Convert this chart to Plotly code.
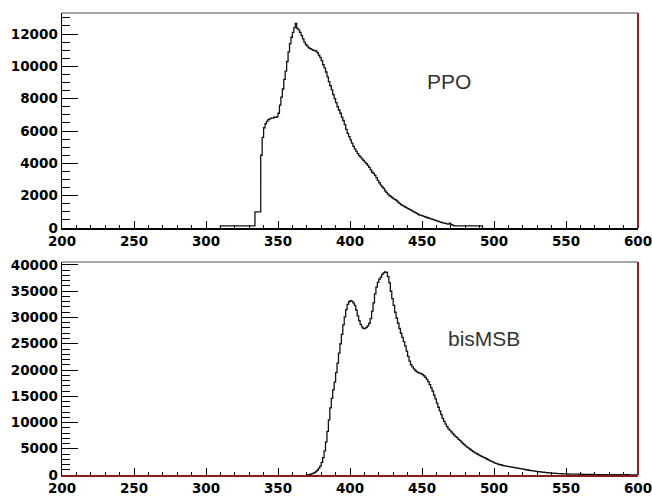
import plotly.graph_objects as go

# ---------------- data ----------------
ppo_first_bin = 310
ppo_counts = [
    # 310-333 low plateau
    130, 130, 130, 130, 130, 130, 130, 130, 130, 130, 130, 130,
    130, 130, 130, 130, 130, 130, 130, 130, 130, 130, 130, 130,
    # 334-337
    1000, 1000, 1000, 1000,
    # 338-349
    4500, 5600, 6200, 6450, 6600, 6700, 6750, 6800, 6800, 6850, 6850, 6870,
    # 350-362
    7100, 7600, 8100, 8600, 9200, 9700, 10300, 10900, 11400, 11800, 12100, 12400, 12650,
    # 363-379
    12350, 12250, 12100, 11900, 11700, 11500, 11350, 11250, 11150, 11100, 11050, 11000,
    10980, 10950, 10850, 10700, 10550,
    # 380-399
    10350, 10100, 9900, 9650, 9350, 9050, 8800, 8550, 8250, 8000,
    7750, 7500, 7300, 7100, 6850, 6650, 6400, 6100, 5850, 5650,
    # 400-419
    5450, 5250, 5050, 4900, 4750, 4600, 4480, 4380, 4280, 4180,
    4080, 3980, 3880, 3750, 3600, 3450, 3380, 3250, 3100, 2950,
    # 420-439
    2800, 2650, 2550, 2450, 2300, 2200, 2100, 2000, 1950, 1880,
    1800, 1750, 1700, 1600, 1520, 1450, 1400, 1350, 1300, 1250,
    # 440-459
    1200, 1150, 1100, 1050, 1000, 950, 900, 850, 800, 780,
    750, 720, 680, 650, 620, 600, 560, 530, 500, 470,
    # 460-471
    440, 410, 380, 350, 320, 300, 280, 260, 240, 300, 200, 180,
    # 472-491 low plateau
    130, 130, 130, 130, 130, 130, 130, 130, 130, 130,
    130, 130, 130, 130, 130, 130, 130, 130, 130, 130,
]

bis_first_bin = 370
bis_counts = [
    # 370-389
    50, 80, 120, 200, 300, 450, 650, 900, 1250, 1700,
    2400, 3300, 4600, 6300, 8300, 10500, 12800, 14600, 16200, 17700,
    # 390-409
    19500, 21300, 23200, 25000, 26800, 28600, 30100, 31500, 32500, 33000,
    33200, 33100, 32800, 32300, 31400, 30300, 29400, 28700, 28200, 27900,
    # 410-429
    27900, 28100, 28400, 28900, 29800, 31200, 32800, 34500, 35800, 36700,
    37300, 37700, 38200, 38500, 38700, 38600, 37800, 36600, 35000, 33600,
    # 430-449
    32300, 31000, 29900, 28900, 27900, 27000, 26200, 25400, 24600, 23600,
    22600, 21700, 21000, 20600, 20200, 19900, 19700, 19500, 19400, 19300,
    # 450-469
    19100, 18900, 18600, 18200, 17800, 17200, 16600, 16000, 15200, 14500,
    13700, 12900, 12200, 11500, 10800, 10200, 9700, 9200, 8800, 8500,
    # 470-489
    8200, 7900, 7600, 7300, 7100, 6800, 6600, 6300, 6000, 5800,
    5500, 5300, 5100, 4900, 4700, 4500, 4300, 4150, 4000, 3850,
    # 490-509
    3700, 3550, 3400, 3300, 3150, 3000, 2850, 2700, 2600, 2450,
    2300, 2200, 2100, 2000, 1950, 1900, 1800, 1750, 1700, 1650,
    # 510-529
    1600, 1550, 1500, 1450, 1400, 1350, 1300, 1250, 1200, 1150,
    1100, 1050, 1000, 950, 900, 850, 820, 780, 750, 700,
    # 530-549
    660, 620, 580, 550, 520, 490, 460, 430, 400, 380,
    360, 340, 320, 300, 280, 260, 250, 240, 230, 220,
    # 550-569
    200, 190, 185, 180, 170, 165, 160, 155, 150, 145,
    140, 135, 130, 125, 120, 115, 110, 105, 100, 95,
    # 570-589
    90, 88, 86, 84, 82, 80, 78, 76, 74, 72,
    70, 68, 66, 64, 62, 60, 58, 56, 54, 52,
    # 590-599
    50, 48, 46, 44, 42, 40, 38, 36, 34, 32,
]

x_tick_values = [200, 250, 300, 350, 400, 450, 500, 550, 600]
ppo_y_ticks = [0, 2000, 4000, 6000, 8000, 10000, 12000]
bis_y_ticks = [0, 5000, 10000, 15000, 20000, 25000, 30000, 35000, 40000]
labels = ["PPO", "bisMSB"]


def step_outline(first_bin, counts):
    """bin edges + counts -> outline for an 'hv' step line (closed to 0 at both ends)"""
    edges = [first_bin + i for i in range(len(counts) + 1)]
    xs = [edges[0]] + edges
    ys = [0] + list(counts) + [0]
    return xs, ys


fig = go.Figure()

px_, py_ = step_outline(ppo_first_bin, ppo_counts)
fig.add_trace(go.Scatter(x=px_, y=py_, mode="lines", line=dict(shape="hv", color="#111111", width=1.3),
                         xaxis="x", yaxis="y", showlegend=False, hoverinfo="skip"))
bx_, by_ = step_outline(bis_first_bin, bis_counts)
fig.add_trace(go.Scatter(x=bx_, y=by_, mode="lines", line=dict(shape="hv", color="#111111", width=1.3),
                         xaxis="x2", yaxis="y2", showlegend=False, hoverinfo="skip"))

W, H = 652, 497
LEFT_PX, RIGHT_PX, TOP_PX, BOTTOM_PX = 62, 638, 13, 475   # plot area in reference pixels
ML = LEFT_PX
MR = W - RIGHT_PX
MT = TOP_PX
MB = H - BOTTOM_PX
PH = BOTTOM_PX - TOP_PX
PW = RIGHT_PX - LEFT_PX
tickfont = dict(family="DejaVu Sans", size=13.5, color="black", weight="bold")


def ydom(top_px, bottom_px):
    return [(BOTTOM_PX - bottom_px) / PH, (BOTTOM_PX - top_px) / PH]


def xax(anchor, linecolor):
    return dict(domain=[0, 1], anchor=anchor, range=[200, 600], tickvals=x_tick_values,
                ticks="inside", ticklen=7, tickwidth=1, tickcolor="black",
                minor=dict(dtick=10, tick0=200, ticks="inside", ticklen=3, tickcolor="black"),
                showline=True, linecolor=linecolor, linewidth=1.5, showgrid=False, zeroline=False,
                tickfont=tickfont, fixedrange=True, automargin=False, ticklabeloverflow="allow")


def yax(domain, anchor, rng, tickvals, minor_dtick):
    return dict(domain=domain, anchor=anchor, range=rng, tickvals=tickvals, tickformat="d",
                ticks="inside", ticklen=16, tickwidth=1, tickcolor="black",
                minor=dict(dtick=minor_dtick, tick0=0, ticks="inside", ticklen=8, tickcolor="black"),
                showline=True, linecolor="black", linewidth=1.5, showgrid=False, zeroline=False,
                tickfont=tickfont, fixedrange=True, automargin=False, ticklabeloverflow="allow")


fig.update_layout(
    width=W, height=H,
    margin=dict(l=ML, r=MR, t=MT, b=MB, pad=0, autoexpand=False),
    paper_bgcolor="white", plot_bgcolor="white",
    xaxis=xax("y", "black"),
    yaxis=yax(ydom(13, 228), "x", [0, 13300], ppo_y_ticks, 500),
    xaxis2=xax("y2", "#8b1a1a"),
    yaxis2=yax(ydom(262, 475), "x2", [0, 40570], bis_y_ticks, 1000),
)

# frame: grey top border, red right border
for xr, yr in [("x", "y"), ("x2", "y2")]:
    fig.add_shape(type="line", xref=f"{xr} domain", yref=f"{yr} domain", x0=0, x1=1, y0=1, y1=1,
                  line=dict(color="#8a8a8a", width=1.5))
    fig.add_shape(type="line", xref=f"{xr} domain", yref=f"{yr} domain", x0=1, x1=1, y0=0, y1=1,
                  line=dict(color="#9b1c1c", width=2))

fig.add_annotation(text=labels[0], xref="x domain", yref="y domain",
                   x=(473 - LEFT_PX) / PW, y=(228 - 68) / 215,
                   showarrow=False, font=dict(family="Liberation Sans", size=21, color="#333333"))
fig.add_annotation(text=labels[1], xref="x2 domain", yref="y2 domain",
                   x=(522 - LEFT_PX) / PW, y=(475 - 338) / 213,
                   showarrow=False, font=dict(family="Liberation Sans", size=21, color="#333333"))

fig.write_html(
    "out.html",
    config={"displayModeBar": False, "staticPlot": True},
    post_script="document.body.style.margin='0';document.body.style.overflow='hidden';",
)
